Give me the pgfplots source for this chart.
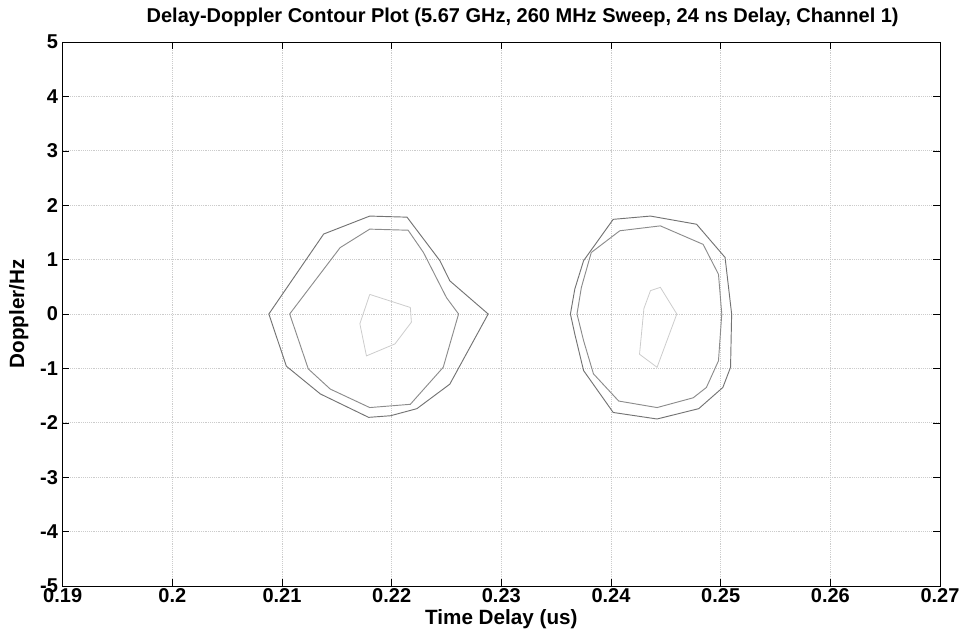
\documentclass[border=0pt]{standalone}
\usepackage{pgfplots}
\pgfplotsset{compat=1.18}
\usepackage{fontspec}
\setmainfont{Liberation Sans}
\setsansfont{Liberation Sans}
\begin{document}
\begin{tikzpicture}
\begin{axis}[
    scale only axis,
    width=658pt, height=408pt,
    xmin=0.19, xmax=0.27, ymin=-5, ymax=5,
    xtick={0.19,0.2,...,0.27},
    ytick={-5,-4,...,5},
    xticklabels={0.19,0.2,0.21,0.22,0.23,0.24,0.25,0.26,0.27},
    yticklabel style={font=\fontsize{15}{17}\selectfont\bfseries},
    xticklabel style={font=\fontsize{15}{17}\selectfont\bfseries, yshift=2pt},
    /pgf/number format/assume math mode=true,
    tick align=inside,
    major tick length=5pt,
    tick style={black, thin},
    grid=major,
    major grid style={gray!40, densely dotted, line width=0.6pt},
    axis line style={black, line width=0.5pt},
    title={Delay-Doppler Contour Plot (5.67 GHz, 260 MHz Sweep, 24 ns Delay, Channel 1)},
    title style={font=\fontsize{15}{17}\selectfont\bfseries, at={(0.5,1)}, anchor=south, yshift=2pt, xshift=16pt},
    xlabel={Time Delay (us)},
    ylabel={Doppler/Hz},
    label style={font=\fontsize{15.5}{17}\selectfont\bfseries},
    xlabel style={yshift=1.5pt},
    ylabel style={yshift=2pt},
]
% left blob, outer
\addplot[black!55, line width=0.7pt] coordinates {
(0.2088,0) (0.2104,-0.96) (0.2135,-1.47) (0.2179,-1.90) (0.2199,-1.87)
(0.2223,-1.74) (0.2253,-1.29) (0.2288,0) (0.2253,0.61) (0.2244,0.98)
(0.2214,1.78) (0.2180,1.80) (0.2138,1.47) (0.2088,0)};
% left blob, inner
\addplot[black!45, line width=0.7pt] coordinates {
(0.2107,0) (0.2124,-1.01) (0.2144,-1.38) (0.2180,-1.72) (0.2217,-1.66)
(0.2247,-0.98) (0.2261,0) (0.2250,0.30) (0.2229,1.13) (0.2215,1.54)
(0.2180,1.56) (0.2153,1.22) (0.2107,0)};
% left blob, centre
\addplot[black!20, line width=0.6pt] coordinates {
(0.2180,0.36) (0.2217,0.12) (0.2218,-0.15) (0.2203,-0.55) (0.2177,-0.77)
(0.2171,-0.18) (0.2180,0.36)};
% right blob, outer
\addplot[black!55, line width=0.7pt] coordinates {
(0.2363,0) (0.2367,0.46) (0.2375,0.98) (0.2402,1.74) (0.2436,1.80)
(0.2478,1.65) (0.2504,1.04) (0.2510,0) (0.2509,-0.98) (0.2502,-1.35)
(0.2480,-1.74) (0.2442,-1.93) (0.2402,-1.81) (0.2375,-1.04) (0.2367,-0.37)
(0.2363,0)};
% right blob, inner
\addplot[black!45, line width=0.7pt] coordinates {
(0.2369,0) (0.2373,0.49) (0.2382,1.13) (0.2408,1.53) (0.2445,1.62)
(0.2484,1.28) (0.2498,0.73) (0.2501,0) (0.2498,-0.86) (0.2487,-1.35)
(0.2475,-1.54) (0.2442,-1.72) (0.2407,-1.60) (0.2384,-1.10) (0.2375,-0.49)
(0.2369,0)};
% right blob, centre
\addplot[black!20, line width=0.6pt] coordinates {
(0.2436,0.43) (0.2445,0.49) (0.2460,0) (0.2442,-0.98) (0.2426,-0.74)
(0.2430,0.10) (0.2436,0.43)};
\end{axis}
\path ([xshift=-47pt,yshift=-40pt]current axis.south west) rectangle ([xshift=24pt,yshift=31.5pt]current axis.north east);
\end{tikzpicture}
\end{document}
